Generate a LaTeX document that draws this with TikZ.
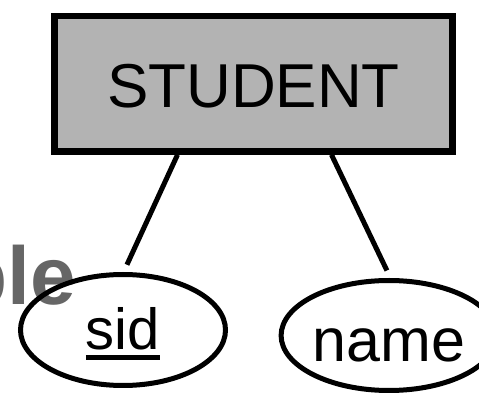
\documentclass[tikz,border=0pt]{standalone}
\usepackage{fontspec}
\setmainfont{Liberation Sans}
\usetikzlibrary{shapes.geometric}
\definecolor{boxgray}{RGB}{179,179,179}
\definecolor{titlegray}{RGB}{102,102,102}
\newcommand{\keyul}[1]{\setbox0\hbox{#1}\rlap{\smash{\rule[-10.5pt]{\wd0}{5pt}}}\box0}

\begin{document}
\begin{tikzpicture}[x=1pt,y=1pt,
		entity/.style={draw,line width=6.5pt,fill=boxgray,minimum width=398pt,minimum height=135.5pt,inner sep=0pt,
			font=\fontsize{62}{70}\selectfont,text height=48.5pt,text depth=0pt},
		attr/.style={draw,ellipse,line width=5pt,inner sep=0pt,text depth=0pt},
		link/.style={line width=5pt}]
				\useasboundingbox (0,0) rectangle (479,393);
				% title text peeking in from the left
				\node[anchor=base east,inner sep=0pt,text=titlegray,font=\fontsize{82}{90}\selectfont\bfseries] (title) at (76,88) {ble};
				% entity and its attributes
				\node[entity] (student) at (253.5,309.25) {STUDENT};
				\node[attr,minimum width=205pt,minimum height=111pt,text height=40pt,
					font=\fontsize{58}{68}\selectfont] (sid) at (123,63) {\keyul{sid}};
				\node[attr,minimum width=197pt,minimum height=110pt,text height=53pt,
					font=\fontsize{61}{70}\selectfont] (name) at (389,57.5) {name};
				\draw[link,shorten >=8pt] ([xshift=-76pt]student.south) -- ([xshift=0.6pt]sid.north);
				\draw[link,shorten >=8.3pt] ([xshift=78pt]student.south) -- ([xshift=1.5pt]name.north);
			\end{tikzpicture}
\end{document}
